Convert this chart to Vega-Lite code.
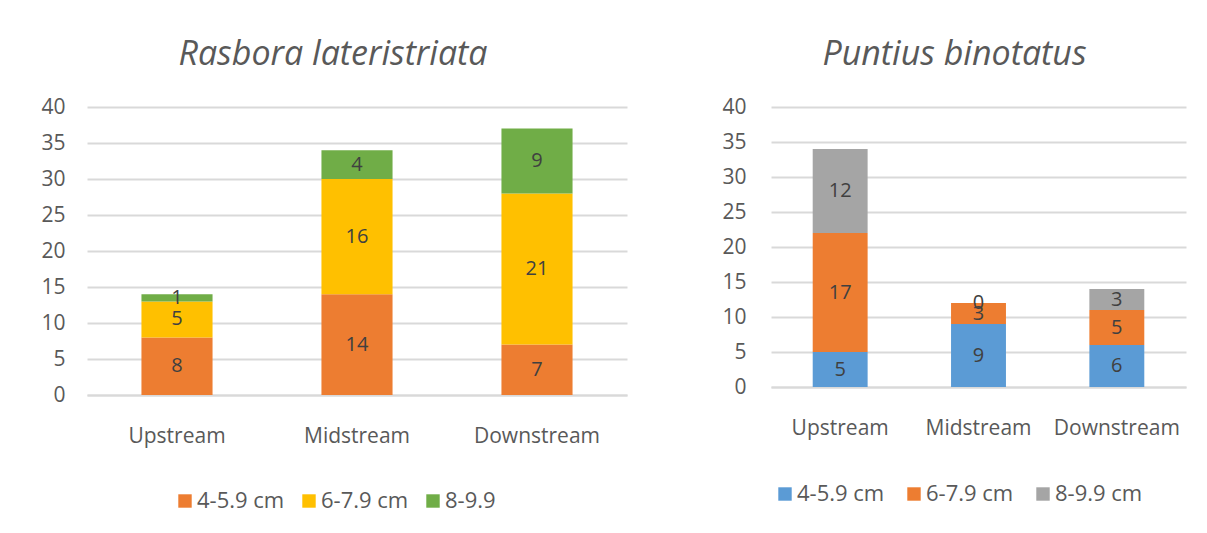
{
  "$schema": "https://vega.github.io/schema/vega-lite/v6.json",
  "background": "white",
  "padding": {"left": 40, "top": 38, "right": 10, "bottom": 0},
  "spacing": 94,
  "datasets": {
    "rasbora": [
      {"site": "Upstream", "size": "4-5.9 cm", "count": 8},
      {"site": "Upstream", "size": "6-7.9 cm", "count": 5},
      {"site": "Upstream", "size": "8-9.9", "count": 1},
      {"site": "Midstream", "size": "4-5.9 cm", "count": 14},
      {"site": "Midstream", "size": "6-7.9 cm", "count": 16},
      {"site": "Midstream", "size": "8-9.9", "count": 4},
      {"site": "Downstream", "size": "4-5.9 cm", "count": 7},
      {"site": "Downstream", "size": "6-7.9 cm", "count": 21},
      {"site": "Downstream", "size": "8-9.9", "count": 9}
    ],
    "puntius": [
      {"site": "Upstream", "size": "4-5.9 cm", "count": 5},
      {"site": "Upstream", "size": "6-7.9 cm", "count": 17},
      {"site": "Upstream", "size": "8-9.9 cm", "count": 12},
      {"site": "Midstream", "size": "4-5.9 cm", "count": 9},
      {"site": "Midstream", "size": "6-7.9 cm", "count": 3},
      {"site": "Midstream", "size": "8-9.9 cm", "count": 0},
      {"site": "Downstream", "size": "4-5.9 cm", "count": 6},
      {"site": "Downstream", "size": "6-7.9 cm", "count": 5},
      {"site": "Downstream", "size": "8-9.9 cm", "count": 3}
    ]
  },
  "config": {
    "font": "Open Sans",
    "view": {"stroke": null},
    "axis": {"labelFont": "Open Sans", "labelColor": "#595959", "labelFontSize": 21, "ticks": false, "title": null},
    "legend": {"labelFont": "Open Sans", "labelColor": "#595959", "labelFontSize": 22, "symbolType": "square", "symbolSize": 180, "symbolStrokeWidth": 0, "title": null, "orient": "none", "direction": "horizontal", "columnPadding": 13, "labelOffset": 1, "padding": 0},
    "title": {"font": "Open Sans", "fontSize": 34, "fontStyle": "italic", "fontWeight": "normal", "color": "#595959", "offset": 24, "anchor": "middle", "dx": -24}
  },
  "resolve": {"scale": {"color": "independent"}},
  "hconcat": [
    {
      "title": "Rasbora lateristriata",
      "width": 540,
      "height": 288,
      "data": {"name": "rasbora"},
      "encoding": {
        "x": {"field": "site", "type": "nominal", "sort": ["Upstream", "Midstream", "Downstream"],
              "scale": {"paddingInner": 0.605, "paddingOuter": 0.3025},
              "axis": {"labelAngle": 0, "labelPadding": 30, "domainColor": "#d9d9d9", "domainWidth": 2}},
        "y": {"field": "count", "type": "quantitative", "stack": "zero",
              "scale": {"domain": [0, 40]},
              "axis": {"values": [0, 5, 10, 15, 20, 25, 30, 35, 40], "domain": false, "gridColor": "#d9d9d9", "gridWidth": 2, "labelPadding": 22}},
        "order": {"field": "size", "type": "nominal", "sort": "ascending"}
      },
      "layer": [
        {
          "mark": {"type": "bar"},
          "encoding": {
            "color": {"field": "size", "type": "nominal",
                      "scale": {"domain": ["4-5.9 cm", "6-7.9 cm", "8-9.9"], "range": ["#ED7D31", "#FFC000", "#70AD47"]},
                      "legend": {"legendX": 87, "legendY": 383}}
          }
        },
        {
          "mark": {"type": "text", "fontSize": 20, "color": "#404040", "baseline": "middle"},
          "encoding": {
            "y": {"field": "count", "type": "quantitative", "stack": "zero", "bandPosition": 0.5},
            "detail": {"field": "size", "type": "nominal"},
            "text": {"field": "count", "type": "quantitative"}
          }
        }
      ]
    },
    {
      "title": "Puntius binotatus",
      "width": 415,
      "height": 280,
      "data": {"name": "puntius"},
      "encoding": {
        "x": {"field": "site", "type": "nominal", "sort": ["Upstream", "Midstream", "Downstream"],
              "scale": {"paddingInner": 0.603, "paddingOuter": 0.3015},
              "axis": {"labelAngle": 0, "labelPadding": 30, "domainColor": "#d9d9d9", "domainWidth": 2}},
        "y": {"field": "count", "type": "quantitative", "stack": "zero",
              "scale": {"domain": [0, 40]},
              "axis": {"values": [0, 5, 10, 15, 20, 25, 30, 35, 40], "domain": false, "gridColor": "#d9d9d9", "gridWidth": 2, "labelPadding": 25}},
        "order": {"field": "size", "type": "nominal", "sort": "ascending"}
      },
      "layer": [
        {
          "mark": {"type": "bar"},
          "encoding": {
            "color": {"field": "size", "type": "nominal",
                      "scale": {"domain": ["4-5.9 cm", "6-7.9 cm", "8-9.9 cm"], "range": ["#5B9BD5", "#ED7D31", "#A5A5A5"]},
                      "legend": {"legendX": 3, "legendY": 376, "columnPadding": 18}}
          }
        },
        {
          "mark": {"type": "text", "fontSize": 20, "color": "#404040", "baseline": "middle"},
          "encoding": {
            "y": {"field": "count", "type": "quantitative", "stack": "zero", "bandPosition": 0.5},
            "detail": {"field": "size", "type": "nominal"},
            "text": {"field": "count", "type": "quantitative"}
          }
        }
      ]
    }
  ]
}
